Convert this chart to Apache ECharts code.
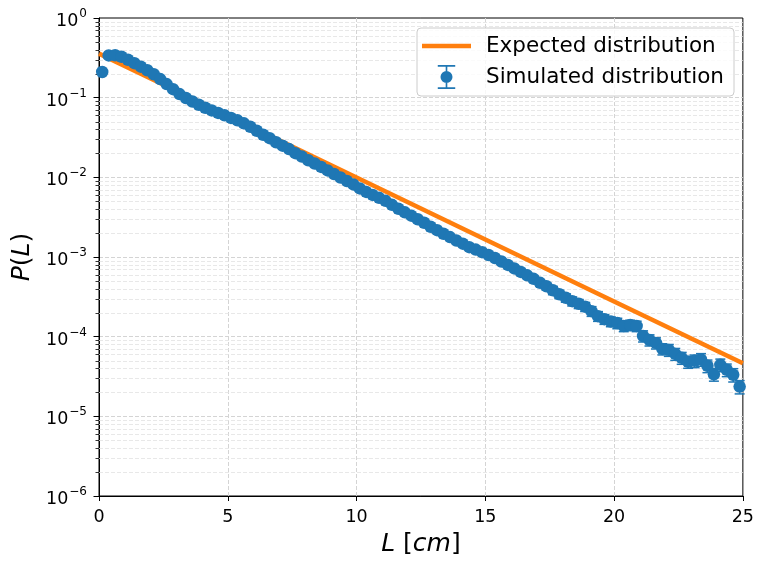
<!DOCTYPE html>
<html><head><meta charset="utf-8">
<script src="https://cdn.jsdelivr.net/npm/echarts@6/dist/echarts.min.js"></script>
<style>html,body{margin:0;padding:0;background:#fff}#c{width:757px;height:562px}</style>
</head><body><div id="c"></div>
<script>
// ---- data ----
const simL = [
  0.125,0.375,0.625,0.875,1.125,1.375,1.625,1.875,2.125,2.375,
  2.625,2.875,3.125,3.375,3.625,3.875,4.125,4.375,4.625,4.875,
  5.125,5.375,5.625,5.875,6.125,6.375,6.625,6.875,7.125,7.375,
  7.625,7.875,8.125,8.375,8.625,8.875,9.125,9.375,9.625,9.875,
  10.125,10.375,10.625,10.875,11.125,11.375,11.625,11.875,12.125,12.375,
  12.625,12.875,13.125,13.375,13.625,13.875,14.125,14.375,14.625,14.875,
  15.125,15.375,15.625,15.875,16.125,16.375,16.625,16.875,17.125,17.375,
  17.625,17.875,18.125,18.375,18.625,18.875,19.125,19.375,19.625,19.875,
  20.125,20.375,20.625,20.875,21.125,21.375,21.625,21.875,22.125,22.375,
  22.625,22.875,23.125,23.375,23.625,23.875,24.125,24.375,24.625,24.875
];
const simP = [
  0.210,0.339,0.341,0.326,0.299,0.271,0.245,0.221,0.197,0.171,
  0.148,0.128,0.111,0.0991,0.0896,0.0815,0.0748,0.0692,0.0644,0.0600,
  0.0557,0.0519,0.0476,0.0431,0.0384,0.0342,0.0310,0.0276,0.0250,0.0226,
  0.0201,0.0182,0.0164,0.0149,0.0135,0.0122,0.0110,0.00995,0.00900,0.00814,
  0.00726,0.00656,0.00602,0.00553,0.00507,0.00452,0.00403,0.00364,0.00330,0.00298,
  0.00269,0.00240,0.00217,0.00196,0.00178,0.00161,0.00147,0.00133,0.00124,0.00115,
  0.00106,0.000972,0.000879,0.000795,0.000719,0.000650,0.000588,0.000532,0.000474,0.000429,
  0.000382,0.000341,0.000308,0.000279,0.000259,0.000238,0.000209,0.000181,0.000166,0.000155,
  0.000148,0.000136,0.000140,0.000136,0.000102,0.0000909,0.0000834,0.0000702,0.0000682,0.0000608,
  0.0000542,0.0000483,0.0000498,0.0000519,0.0000431,0.0000337,0.0000443,0.0000384,0.0000333,0.0000236
];
const simRelErr = [
  0.02,0.02,0.02,0.02,0.02,0.02,0.02,0.02,0.02,0.02,
  0.02,0.02,0.02,0.02,0.02,0.02,0.02,0.02,0.02,0.02,
  0.02,0.02,0.02,0.02,0.02,0.02,0.02,0.02,0.02,0.02,
  0.03,0.03,0.03,0.03,0.03,0.03,0.03,0.03,0.03,0.03,
  0.04,0.04,0.04,0.04,0.04,0.04,0.04,0.04,0.04,0.04,
  0.05,0.05,0.05,0.05,0.05,0.05,0.05,0.05,0.05,0.05,
  0.07,0.07,0.07,0.07,0.08,0.08,0.08,0.09,0.09,0.10,
  0.12,0.12,0.12,0.13,0.13,0.13,0.14,0.14,0.14,0.14,
  0.15,0.15,0.15,0.15,0.16,0.16,0.16,0.16,0.17,0.17,
  0.17,0.17,0.18,0.18,0.18,0.18,0.18,0.18,0.19,0.19
];
const expL = [0, 5, 10, 15, 20, 25];
const expP = [0.357, 0.0596, 0.00995, 0.00166, 0.000277, 0.0000463];
const yDecades = [-6, -5, -4, -3, -2, -1, 0];
const minorMultipliers = [2, 3, 4, 5, 6, 7, 8, 9];

// ---- derived tables ----
const simData = simL.map((l, i) => [l, simP[i]]);
const errData = simL.map((l, i) => [l, simP[i], simP[i] * simRelErr[i]]);
const expData = expL.map((l, i) => [l, expP[i]]);
const minorData = [];
yDecades.slice(0, -1).forEach(d => minorMultipliers.forEach(m => minorData.push([0, m * Math.pow(10, d)])));

const FONT = 'DejaVu Sans';
const BLUE = '#1f77b4', ORANGE = '#ff7f0e';

const chart = echarts.init(document.getElementById('c'), null, {renderer: 'canvas'});
chart.setOption({
  animation: false,
  backgroundColor: '#fff',
  grid: {left: 99, right: 12, top: 18, bottom: 63, show: true, borderColor: '#000', borderWidth: 1, backgroundColor: 'transparent'},
  legend: {
    orient: 'vertical', left: 417, top: 28,
    itemWidth: 49, itemHeight: 24, itemGap: 8,
    padding: [7, 10, 7, 5],
    backgroundColor: 'rgba(255,255,255,0.8)', borderColor: '#cccccc', borderWidth: 1, borderRadius: 4,
    textStyle: {fontFamily: FONT, fontSize: 21.5, color: '#000', padding: [0, 0, 0, 10]},
    data: [
      {name: 'Expected distribution', icon: 'path://M0,0 L49,0 L49,4.5 L0,4.5 Z', itemStyle: {color: ORANGE}},
      {name: 'Simulated distribution', icon: 'path://M0,0 h16 v1.5 h-16 Z M7.25,0 h1.5 v22 h-1.5 Z M0,20.5 h16 v1.5 h-16 Z M2.5,11 A5.5,5.5 0 1,1 13.5,11 A5.5,5.5 0 1,1 2.5,11 Z', itemStyle: {color: BLUE}}
    ]
  },
  xAxis: {
    type: 'value', min: 0, max: 25, interval: 5,
    name: '{i|L} [{i|cm}]', nameLocation: 'middle', nameGap: 36,
    nameTextStyle: {fontFamily: FONT, fontSize: 25, color: '#000', rich: {i: {fontFamily: FONT, fontSize: 25, fontStyle: 'italic', color: '#000'}}},
    axisLine: {show: true, lineStyle: {color: '#000', width: 1}},
    axisTick: {show: true, inside: false, length: 5, lineStyle: {color: '#000', width: 1}},
    axisLabel: {fontFamily: FONT, fontSize: 17.5, color: '#000', margin: 12},
    splitLine: {show: true, showMinLine: false, showMaxLine: false, lineStyle: {color: '#d4d4d4', width: 1, type: [4, 2]}}
  },
  yAxis: {
    type: 'log', logBase: 10, min: 1e-6, max: 1, splitNumber: 6,
    name: '{i|P}({i|L})', nameLocation: 'middle', nameGap: 63, nameRotate: 90,
    nameTextStyle: {fontFamily: FONT, fontSize: 25, color: '#000', rich: {i: {fontFamily: FONT, fontSize: 25, fontStyle: 'italic', color: '#000'}}},
    axisLine: {show: true, lineStyle: {color: '#000', width: 1}},
    axisTick: {show: true, inside: false, length: 5.5, lineStyle: {color: '#000', width: 1}},
    axisLabel: {
      fontFamily: FONT, fontSize: 17.5, color: '#000', margin: 12,
      formatter: v => {
        const e = Math.round(Math.log10(v));
        return '{b|10}{s|' + (e < 0 ? '\u2212' + (-e) : String(e)) + '}';
      },
      rich: {
        b: {fontFamily: FONT, fontSize: 17.5, color: '#000', padding: [7, 0, 0, 0]},
        s: {fontFamily: FONT, fontSize: 12, color: '#000', padding: [0, 0, 8, 1]}
      }
    },
    splitLine: {show: true, showMinLine: false, showMaxLine: false, lineStyle: {color: '#d4d4d4', width: 1, type: [4, 2]}}
  },
  series: [
    {
      type: 'custom', name: 'minor', z: 1, silent: true, clip: false,
      data: minorData, encode: {x: 0, y: 1},
      renderItem: (params, api) => {
        const p = api.coord([0, api.value(1)]);
        const cs = params.coordSys;
        const y = Math.round(p[1]) + 0.5;
        return {type: 'group', children: [
          {type: 'line', shape: {x1: cs.x, y1: y, x2: cs.x + cs.width, y2: y}, style: {stroke: '#e2e2e2', lineWidth: 0.8, lineDash: [4, 2]}},
          {type: 'line', shape: {x1: cs.x - 3.5, y1: y, x2: cs.x, y2: y}, style: {stroke: '#000', lineWidth: 0.8}}
        ]};
      }
    },
    {
      type: 'line', name: 'Expected distribution', data: expData, z: 3,
      color: ORANGE, showSymbol: false, symbol: 'none',
      lineStyle: {color: ORANGE, width: 4.5}
    },
    {
      type: 'custom', name: 'Simulated distribution', z: 4,
      data: errData, encode: {x: 0, y: 1},
      renderItem: (params, api) => {
        const x = api.value(0), y = api.value(1), e = api.value(2);
        const t = api.coord([x, y + e]), b = api.coord([x, y - e]);
        const c = 5;
        const st = {stroke: BLUE, lineWidth: 1.5};
        return {type: 'group', children: [
          {type: 'line', shape: {x1: t[0], y1: t[1], x2: b[0], y2: b[1]}, style: st},
          {type: 'line', shape: {x1: t[0] - c, y1: t[1], x2: t[0] + c, y2: t[1]}, style: st},
          {type: 'line', shape: {x1: b[0] - c, y1: b[1], x2: b[0] + c, y2: b[1]}, style: st}
        ]};
      }
    },
    {
      type: 'scatter', name: 'Simulated distribution', data: simData, z: 5,
      symbol: 'circle', symbolSize: 12.5, itemStyle: {color: BLUE, opacity: 1}
    }
  ]
});
</script></body></html>
